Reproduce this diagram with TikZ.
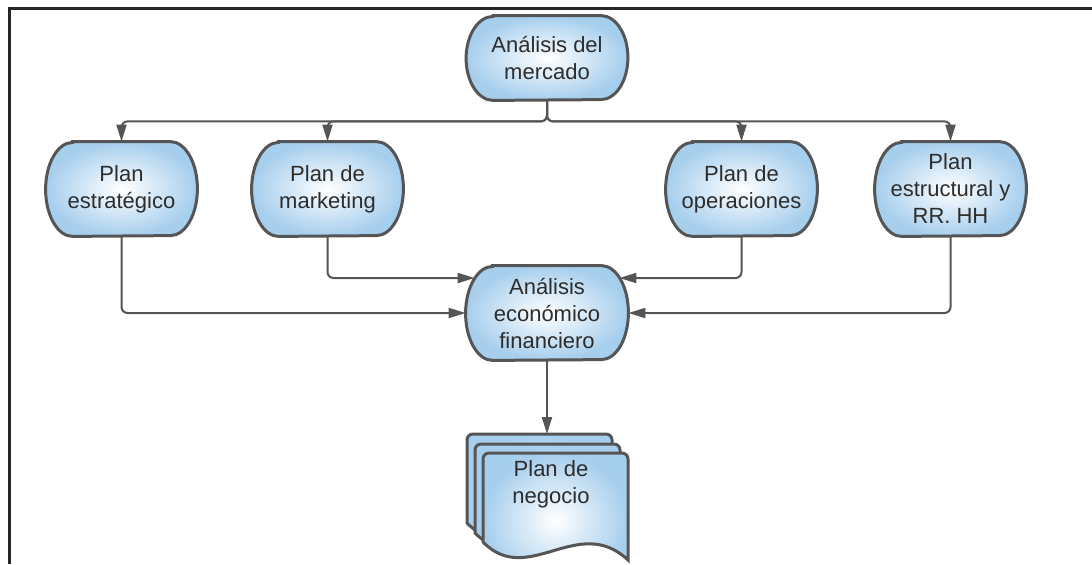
\documentclass[tikz,border=0pt]{standalone}
\usepackage{fontspec}
\setmainfont{Liberation Sans}
\usepackage{xcolor}
\usepackage{tikz}
\usetikzlibrary{arrows.meta}
\definecolor{nodeblue}{RGB}{166,206,237}
\definecolor{nodeline}{RGB}{85,85,85}
\definecolor{textgray}{RGB}{45,45,45}
\pgfdeclarelayer{bg}
\pgfsetlayers{bg,main}

\begin{document}
\begin{tikzpicture}[
  x=0.5pt, y=-0.5pt,
  box/.style={rectangle, minimum width=75.5pt, minimum height=47pt, align=center, text=textgray, font=\fontsize{11}{13.5}\selectfont},
  boxshape/.style={draw=nodeline, line width=1.5pt, inner color=white, outer color=nodeblue},
  page/.style={draw=nodeline, line width=1.5pt, inner color=white, outer color=nodeblue},
  arrow/.style={-{Triangle[length=8.5pt,width=5pt]}, draw=nodeline, line width=1pt, rounded corners=3pt},
  frame/.style={draw=black!85, line width=1.5pt}
]
\useasboundingbox (0,0) rectangle (1092,564);

% Frame
\draw[frame] (9,564) -- (9,8) -- (1092,8);

% Main components
\node[box, minimum width=80.5pt, minimum height=42pt] (mercado) at (547,58) {Análisis del\\mercado};
\node[box, minimum width=81pt] (econ) at (547,313) {Análisis\\económico\\financiero};

% Plans
\node[box] (strat) at (121.5,189) {Plan\\estratégico};
\node[box] (mkt) at (327.5,189) {Plan de\\marketing};
\node[box] (ops) at (741.5,189) {Plan de\\operaciones};
\node[box] (rrhh) at (950.5,189) {Plan\\estructural y\\RR. HH};

% Outlines behind the texts
\begin{pgfonlayer}{bg}
\foreach \n/\r in {mercado/21pt,econ/23.5pt,strat/23.5pt,mkt/23.5pt,ops/23.5pt,rrhh/23.5pt}
  \path[boxshape] ([xshift=13.5pt]\n.north west) -- ([xshift=-13.5pt]\n.north east)
    arc[start angle=90, end angle=-90, x radius=13.5pt, y radius=\r]
    -- ([xshift=13.5pt]\n.south west)
    arc[start angle=270, end angle=90, x radius=13.5pt, y radius=\r] -- cycle;
\end{pgfonlayer}

% Document stack
\foreach \dx/\dy in {-16/-19,-8/-9,0/0}
  \path[page, shift={(483+\dx,453+\dy)}]
    [rounded corners=3pt] (0,89) -- (0,0) -- (145,0) -- (145,60)
    [sharp corners] -- (145,107) .. controls (95,60) and (45,135) .. (0,89) -- cycle;
\node[text=textgray, align=center, font=\fontsize{11}{13.5}\selectfont] (biz) at (551,484) {Plan de\\negocio};
\coordinate (stacktop) at (547,434);

% Arrows
\foreach \n in {strat,mkt,ops,rrhh}
  \draw[arrow] (mercado.south) -- ++(0,21) -| (\n.north);

\draw[arrow] (strat.south) |- (econ.west);
\draw[arrow] (mkt.south) |- ([xshift=4.5pt,yshift=17.5pt]econ.west);
\draw[arrow] (ops.south) |- ([xshift=-4.5pt,yshift=17.5pt]econ.east);
\draw[arrow] (rrhh.south) |- (econ.east);

\draw[arrow] (econ.south) -- (stacktop);

\end{tikzpicture}
\end{document}
